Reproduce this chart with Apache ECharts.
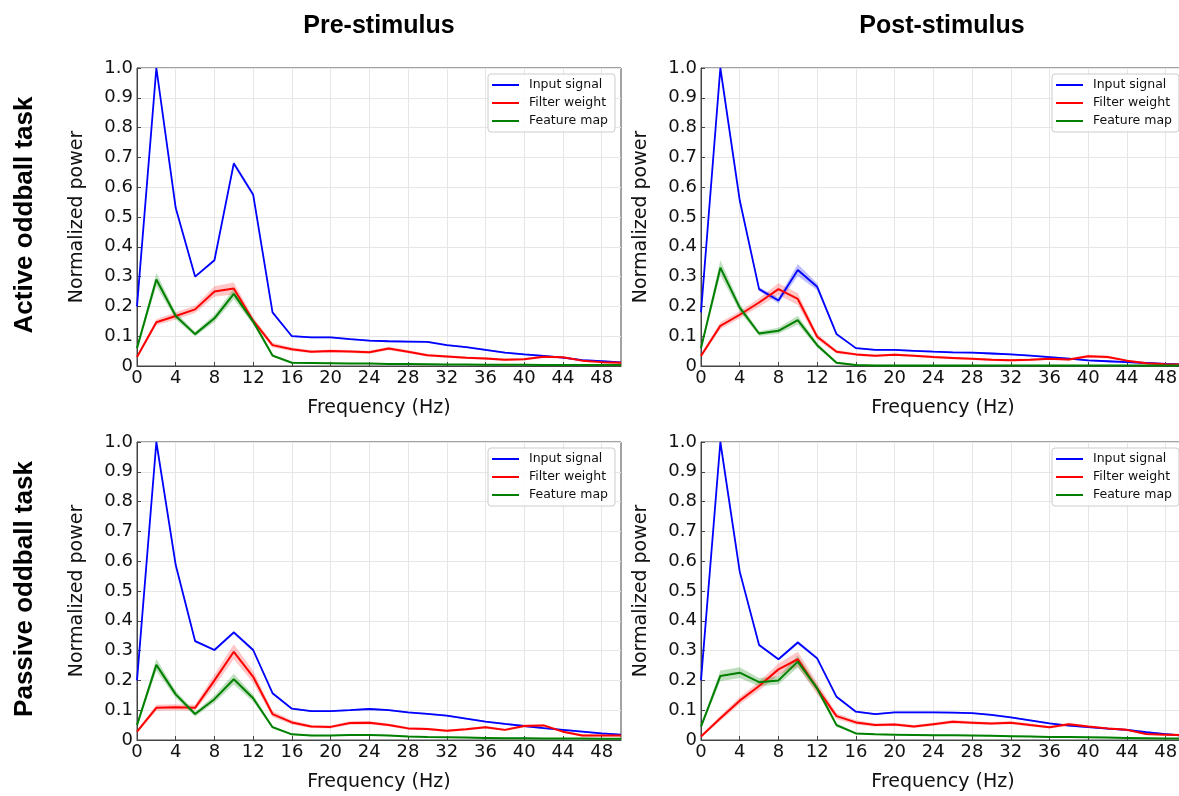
<!DOCTYPE html>
<html>
<head>
<meta charset="utf-8">
<script src="https://cdn.jsdelivr.net/npm/echarts@6/dist/echarts.min.js"></script>
<style>
  html, body { margin: 0; background: #fff; }
  #chart { width: 1179px; height: 796px; }
</style>
</head>
<body>
<div id="chart"></div>
<script>
// frequency bins, 0..50 Hz every 2 Hz
var freqs = ['0', '2', '4', '6', '8', '10', '12', '14', '16', '18', '20', '22', '24', '26',
  '28', '30', '32', '34', '36', '38', '40', '42', '44', '46', '48', '50']
var seriesNames = ['Input signal', 'Filter weight', 'Feature map']
var colTitles = ['Pre-stimulus', 'Post-stimulus']
var rowTitles = ['Active oddball task', 'Passive oddball task']

// active / pre
var preActiveInput = [0.20, 1.00, 0.53, 0.30, 0.355, 0.68, 0.575, 0.18, 0.10, 0.096, 0.096, 0.09, 0.085, 0.083, 0.082, 0.081, 0.07, 0.063, 0.054, 0.045, 0.039, 0.034, 0.028, 0.02, 0.016, 0.012]
var preActiveFilter = [0.03, 0.147, 0.168, 0.19, 0.25, 0.26, 0.152, 0.07, 0.056, 0.048, 0.05, 0.049, 0.046, 0.059, 0.048, 0.036, 0.032, 0.028, 0.025, 0.021, 0.023, 0.031, 0.029, 0.018, 0.013, 0.011]
var preActiveFeature = [0.06, 0.29, 0.168, 0.107, 0.16, 0.242, 0.149, 0.035, 0.011, 0.01, 0.009, 0.008, 0.008, 0.007, 0.007, 0.006, 0.005, 0.005, 0.004, 0.004, 0.004, 0.003, 0.003, 0.003, 0.003, 0.003]
// active / post
var postActiveInput = [0.18, 1.00, 0.556, 0.258, 0.22, 0.322, 0.266, 0.107, 0.06, 0.054, 0.054, 0.051, 0.048, 0.046, 0.045, 0.042, 0.039, 0.035, 0.03, 0.025, 0.019, 0.016, 0.013, 0.01, 0.007, 0.005]
var postActiveFilter = [0.034, 0.135, 0.172, 0.213, 0.258, 0.225, 0.098, 0.048, 0.039, 0.034, 0.038, 0.034, 0.03, 0.027, 0.024, 0.021, 0.019, 0.021, 0.024, 0.022, 0.033, 0.03, 0.018, 0.009, 0.006, 0.005]
var postActiveFeature = [0.06, 0.33, 0.196, 0.109, 0.118, 0.154, 0.07, 0.011, 0.003, 0.002, 0.002, 0.002, 0.002, 0.002, 0.002, 0.002, 0.002, 0.002, 0.002, 0.002, 0.002, 0.002, 0.002, 0.002, 0.002, 0.002]
// passive / pre
var prePassiveInput = [0.20, 1.00, 0.587, 0.332, 0.302, 0.361, 0.302, 0.157, 0.105, 0.097, 0.097, 0.10, 0.104, 0.10, 0.093, 0.088, 0.082, 0.072, 0.062, 0.054, 0.047, 0.04, 0.034, 0.028, 0.022, 0.018]
var prePassiveFilter = [0.028, 0.108, 0.11, 0.108, 0.20, 0.296, 0.212, 0.087, 0.059, 0.045, 0.044, 0.057, 0.058, 0.05, 0.039, 0.037, 0.031, 0.036, 0.043, 0.034, 0.047, 0.049, 0.028, 0.015, 0.015, 0.015]
var prePassiveFeature = [0.05, 0.252, 0.153, 0.087, 0.137, 0.204, 0.14, 0.043, 0.019, 0.015, 0.015, 0.017, 0.017, 0.015, 0.012, 0.01, 0.009, 0.008, 0.007, 0.006, 0.006, 0.005, 0.005, 0.005, 0.004, 0.004]
// passive / post
var postPassiveInput = [0.20, 1.00, 0.565, 0.319, 0.271, 0.327, 0.274, 0.145, 0.095, 0.087, 0.093, 0.093, 0.093, 0.092, 0.09, 0.084, 0.076, 0.066, 0.056, 0.048, 0.043, 0.038, 0.034, 0.026, 0.02, 0.014]
var postPassiveFilter = [0.012, 0.073, 0.132, 0.181, 0.237, 0.271, 0.173, 0.08, 0.059, 0.05, 0.052, 0.045, 0.053, 0.061, 0.058, 0.055, 0.058, 0.05, 0.043, 0.053, 0.045, 0.039, 0.034, 0.02, 0.018, 0.016]
var postPassiveFeature = [0.045, 0.215, 0.226, 0.194, 0.2, 0.263, 0.173, 0.05, 0.022, 0.019, 0.018, 0.017, 0.016, 0.016, 0.015, 0.014, 0.013, 0.012, 0.01, 0.01, 0.009, 0.008, 0.007, 0.006, 0.005, 0.005]

// half width of the shaded error bands
var preActiveInputBand = [0.003, 0.004, 0.005, 0.004, 0.004, 0.008, 0.008, 0.004, 0.003, 0.003, 0.003, 0.003, 0.003, 0.003, 0.003, 0.003, 0.003, 0.003, 0.003, 0.003, 0.003, 0.003, 0.003, 0.003, 0.003, 0.003]
var preActiveFilterBand = [0.005, 0.01, 0.012, 0.012, 0.018, 0.02, 0.012, 0.008, 0.006, 0.005, 0.005, 0.005, 0.005, 0.006, 0.005, 0.004, 0.004, 0.004, 0.004, 0.004, 0.004, 0.004, 0.004, 0.004, 0.004, 0.004]
var preActiveFeatureBand = [0.005, 0.022, 0.012, 0.008, 0.012, 0.018, 0.01, 0.005, 0.003, 0.002, 0.002, 0.002, 0.002, 0.002, 0.002, 0.002, 0.002, 0.002, 0.002, 0.002, 0.002, 0.002, 0.002, 0.002, 0.002, 0.002]
var postActiveInputBand = [0.003, 0.004, 0.006, 0.006, 0.01, 0.02, 0.012, 0.005, 0.003, 0.003, 0.003, 0.003, 0.003, 0.003, 0.003, 0.003, 0.003, 0.003, 0.003, 0.003, 0.003, 0.003, 0.003, 0.003, 0.003, 0.003]
var postActiveFilterBand = [0.005, 0.012, 0.012, 0.014, 0.02, 0.02, 0.01, 0.006, 0.005, 0.004, 0.004, 0.004, 0.004, 0.004, 0.004, 0.004, 0.004, 0.004, 0.004, 0.004, 0.005, 0.005, 0.004, 0.004, 0.004, 0.004]
var postActiveFeatureBand = [0.006, 0.025, 0.014, 0.008, 0.01, 0.015, 0.008, 0.004, 0.002, 0.002, 0.002, 0.002, 0.002, 0.002, 0.002, 0.002, 0.002, 0.002, 0.002, 0.002, 0.002, 0.002, 0.002, 0.002, 0.002, 0.002]
var prePassiveInputBand = [0.003, 0.004, 0.005, 0.004, 0.004, 0.006, 0.005, 0.004, 0.003, 0.003, 0.003, 0.003, 0.003, 0.003, 0.003, 0.003, 0.003, 0.003, 0.003, 0.003, 0.003, 0.003, 0.003, 0.003, 0.003, 0.003]
var prePassiveFilterBand = [0.005, 0.01, 0.01, 0.01, 0.02, 0.025, 0.02, 0.01, 0.007, 0.005, 0.005, 0.006, 0.006, 0.005, 0.005, 0.004, 0.004, 0.004, 0.004, 0.004, 0.005, 0.005, 0.004, 0.004, 0.004, 0.004]
var prePassiveFeatureBand = [0.005, 0.02, 0.012, 0.008, 0.012, 0.018, 0.012, 0.005, 0.003, 0.002, 0.002, 0.002, 0.002, 0.002, 0.002, 0.002, 0.002, 0.002, 0.002, 0.002, 0.002, 0.002, 0.002, 0.002, 0.002, 0.002]
var postPassiveInputBand = [0.003, 0.004, 0.005, 0.004, 0.004, 0.006, 0.005, 0.004, 0.003, 0.003, 0.003, 0.003, 0.003, 0.003, 0.003, 0.003, 0.003, 0.003, 0.003, 0.003, 0.003, 0.003, 0.003, 0.003, 0.003, 0.003]
var postPassiveFilterBand = [0.004, 0.008, 0.012, 0.015, 0.02, 0.025, 0.02, 0.01, 0.007, 0.005, 0.005, 0.005, 0.005, 0.006, 0.005, 0.005, 0.005, 0.005, 0.004, 0.005, 0.004, 0.004, 0.004, 0.004, 0.004, 0.004]
var postPassiveFeatureBand = [0.006, 0.018, 0.018, 0.014, 0.014, 0.02, 0.012, 0.006, 0.003, 0.002, 0.002, 0.002, 0.002, 0.002, 0.002, 0.002, 0.002, 0.002, 0.002, 0.002, 0.002, 0.002, 0.002, 0.002, 0.002, 0.002]

var colors = ['#0000ff', '#ff0000', '#008000']
var bandColors = ['rgba(0,0,255,0.25)', 'rgba(255,0,0,0.22)', 'rgba(0,128,0,0.25)']

var panels = [
  { lines: [preActiveInput, preActiveFilter, preActiveFeature],
    bands: [preActiveInputBand, preActiveFilterBand, preActiveFeatureBand], left: 137, top: 68 },
  { lines: [postActiveInput, postActiveFilter, postActiveFeature],
    bands: [postActiveInputBand, postActiveFilterBand, postActiveFeatureBand], left: 701, top: 68 },
  { lines: [prePassiveInput, prePassiveFilter, prePassiveFeature],
    bands: [prePassiveInputBand, prePassiveFilterBand, prePassiveFeatureBand], left: 137, top: 442 },
  { lines: [postPassiveInput, postPassiveFilter, postPassiveFeature],
    bands: [postPassiveInputBand, postPassiveFilterBand, postPassiveFeatureBand], left: 701, top: 442 }
]

var txt = '#111'
var frame = '#444'
var grids = [], xAxes = [], yAxes = [], legends = [], series = []

panels.forEach(function (p, i) {
  grids.push({
    left: p.left, top: p.top, width: 484, height: 298,
    outerBoundsMode: 'none', containLabel: false,
    show: true, borderColor: frame, borderWidth: 1
  })
  xAxes.push({
    type: 'category', gridIndex: i, data: freqs, boundaryGap: false,
    name: 'Frequency (Hz)', nameLocation: 'middle', nameGap: 33,
    nameTextStyle: { fontFamily: 'DejaVu Sans', fontSize: 19, color: txt },
    axisLine: { lineStyle: { color: frame } },
    axisTick: { inside: true, length: 4, interval: 1, lineStyle: { color: frame } },
    axisLabel: { interval: 1, fontFamily: 'DejaVu Sans', fontSize: 18, color: txt, margin: 3 },
    splitLine: { show: true, interval: 1, lineStyle: { color: '#e6e6e6' } }
  })
  yAxes.push({
    type: 'value', gridIndex: i, min: 0, max: 1, interval: 0.1,
    name: 'Normalized power', nameLocation: 'middle', nameGap: 50,
    nameTextStyle: { fontFamily: 'DejaVu Sans', fontSize: 19, color: txt },
    axisLine: { show: true, lineStyle: { color: frame } },
    axisTick: { show: true, inside: true, length: 4, lineStyle: { color: frame } },
    axisLabel: {
      fontFamily: 'DejaVu Sans', fontSize: 18, color: txt, margin: 4,
      formatter: function (v) { return v === 0 ? '0' : v.toFixed(1) }
    },
    splitLine: { lineStyle: { color: '#e6e6e6' } }
  })
  legends.push({
    data: seriesNames, orient: 'vertical', left: p.left + 351, top: p.top + 6,
    icon: 'rect', itemWidth: 27, itemHeight: 2, itemGap: 4,
    padding: [4, 7, 4, 4], borderColor: '#cccccc', borderWidth: 1, borderRadius: 3,
    backgroundColor: 'rgba(255,255,255,0.85)',
    textStyle: { fontFamily: 'DejaVu Sans', fontSize: 12.5, color: txt, lineHeight: 14, padding: [0, 0, 0, 5] }
  })
  // shaded bands: transparent lower edge + stacked thickness
  p.lines.forEach(function (vals, k) {
    var b = p.bands[k]
    var stack = 'band' + i + '_' + k
    series.push({
      name: 'lower' + i + k, type: 'line', xAxisIndex: i, yAxisIndex: i, stack: stack,
      symbol: 'none', silent: true, lineStyle: { opacity: 0 },
      data: vals.map(function (v, j) { return v - b[j] })
    })
    series.push({
      name: 'band' + i + k, type: 'line', xAxisIndex: i, yAxisIndex: i, stack: stack,
      symbol: 'none', silent: true, lineStyle: { opacity: 0 },
      areaStyle: { color: bandColors[k], opacity: 1 },
      data: b.map(function (w) { return 2 * w })
    })
  })
  p.lines.forEach(function (vals, k) {
    series.push({
      name: seriesNames[k], type: 'line', xAxisIndex: i, yAxisIndex: i,
      symbol: 'none', color: colors[k], itemStyle: { color: colors[k] },
      lineStyle: { color: colors[k], width: k === 0 ? 1.8 : 2 },
      data: vals
    })
  })
})

var font = function (size) { return 'bold ' + size + 'px "Liberation Sans", Arial, sans-serif' }
var graphics = [
  { type: 'text', x: 379, y: 26, style: { text: colTitles[0], font: font(25), fill: '#000', align: 'center', verticalAlign: 'middle' } },
  { type: 'text', x: 942, y: 26, style: { text: colTitles[1], font: font(25), fill: '#000', align: 'center', verticalAlign: 'middle' } },
  { type: 'text', x: 25, y: 215, rotation: Math.PI / 2, style: { text: rowTitles[0], font: font(26), fill: '#000', align: 'center', verticalAlign: 'middle' } },
  { type: 'text', x: 25, y: 589, rotation: Math.PI / 2, style: { text: rowTitles[1], font: font(26), fill: '#000', align: 'center', verticalAlign: 'middle' } }
]

var chart = echarts.init(document.getElementById('chart'))
chart.setOption({
  animation: false,
  backgroundColor: '#fff',
  grid: grids,
  xAxis: xAxes,
  yAxis: yAxes,
  legend: legends,
  graphic: graphics,
  series: series
})
</script>
</body>
</html>
